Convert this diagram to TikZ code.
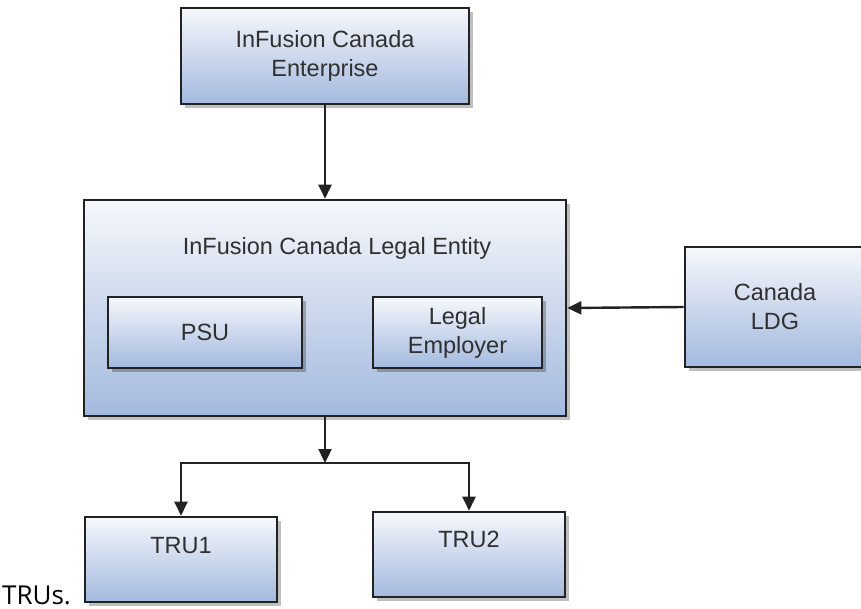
\documentclass[tikz,border=0pt]{standalone}
\usepackage{fontspec}
\setmainfont{Liberation Sans}
\newfontfamily\opensans{Open Sans}
\usetikzlibrary{arrows.meta,shadows}
\definecolor{gtop}{HTML}{F6F8FC}
\definecolor{gbot}{HTML}{A3B9DE}
\definecolor{edgec}{HTML}{222222}
\definecolor{txtc}{HTML}{303030}
\begin{document}
\begin{tikzpicture}[x=1pt,y=-1pt,
  boxst/.style={draw=edgec, line width=2.6pt, top color=gtop, bottom color=gbot,
    drop shadow={shadow xshift=4pt,shadow yshift=-4pt,fill=black,opacity=0.25},
    text=txtc, font=\fontsize{23.5}{29}\selectfont, align=center, inner sep=0pt},
  lbl/.style={text=txtc, font=\fontsize{23.5}{29}\selectfont, align=center, inner sep=0pt},
  arr/.style={draw=edgec, line width=2.4pt, -{Triangle[length=14pt,width=13pt]}},
]
\useasboundingbox (0,0) rectangle (861,609);
\fill[white] (0,0) rectangle (861,609);

\node[boxst, minimum width=288pt, minimum height=96pt] (ent) at (325,56) {InFusion Canada\\Enterprise};
\node[boxst, minimum width=482pt, minimum height=216pt] (main) at (325,308) {};
\node[lbl] (title) at (337,248) {InFusion Canada Legal Entity};
\node[boxst, minimum width=194pt, minimum height=71pt] (psu) at (205,332.5) {PSU};
\node[boxst, minimum width=169pt, minimum height=71pt] (le) at (457.5,332.5) {Legal\\Employer};
\node[boxst, minimum width=180pt, minimum height=120pt] (ldg) at (775,307) {Canada\\LDG};
\node[boxst, minimum width=192pt, minimum height=85pt,
  label={[lbl,yshift=13.5pt]center:TRU1}] (tru1) at (181,559.5) {};
\node[boxst, minimum width=192pt, minimum height=85pt,
  label={[lbl,yshift=15.5pt]center:TRU2}] (tru2) at (469,554.5) {};
\node[anchor=base west, inner sep=0pt, text=black, font=\opensans\fontsize{26}{30}\selectfont] (trus) at (2,604) {TRUs.};

\coordinate (j) at (325,463);
\draw[arr] (ent.south) -- (main.north);
\draw[arr] (ldg.west) -- (main.east);
\draw[arr] (main.south) -- (j);
\draw[arr] (j) -| (tru1.north);
\draw[arr] (j) -| (tru2.north);
\end{tikzpicture}
\end{document}
